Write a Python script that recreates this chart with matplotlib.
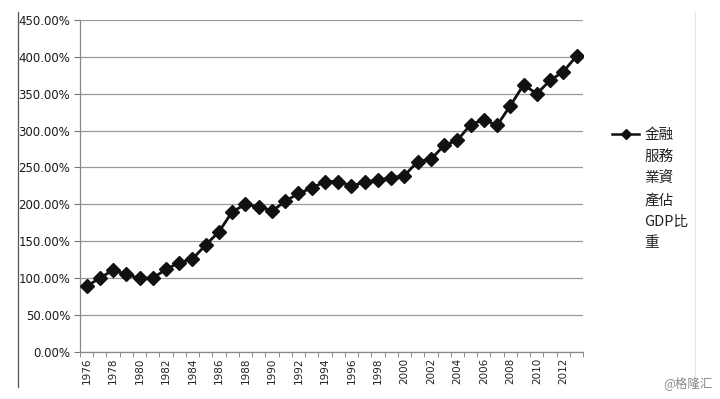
import matplotlib.pyplot as plt
import numpy as np
from matplotlib.lines import Line2D
from matplotlib.ticker import FixedLocator, FuncFormatter

years = list(range(1976, 2014))
share = [
    89, 100, 111, 105, 100, 100, 112, 121, 126, 145,
    163, 190, 200, 197, 191, 204, 215, 222, 231, 231,
    225, 230, 233, 236, 239, 258, 261, 280, 287, 308,
    315, 307, 334, 362, 350, 368, 380, 401,
]
series_name = "金融服務業資產佔GDP比重"
label_lines = ["金融", "服務", "業資", "產佔", "GDP比", "重"]
y_ticks = np.arange(0, 451, 50)

cjk = ["Noto Sans CJK TC", "DejaVu Sans"]

fig = plt.figure(figsize=(7.2, 3.99), dpi=100)
ax = fig.add_axes([0.111, 0.118, 0.699, 0.832])

ax.plot(years, share, color="#111111", linewidth=2.0, marker="D",
        markersize=7, markerfacecolor="#111111", markeredgecolor="#111111",
        label=series_name, zorder=3)

ax.set_xlim(years[0] - 0.5, years[-1] + 0.5)
ax.set_ylim(0, 450)

ax.set_yticks(y_ticks)
ax.yaxis.set_major_formatter(FuncFormatter(lambda v, _: f"{v:.2f}%"))
ax.grid(axis="y", color="#9a9a9a", linewidth=0.9)
ax.set_axisbelow(True)

ax.set_xticks(years[::2])
ax.set_xticklabels([str(y) for y in years[::2]], rotation=90)
ax.xaxis.set_minor_locator(FixedLocator(np.arange(years[0] - 0.5, years[-1] + 1, 1)))
ax.tick_params(axis="x", which="major", length=0, labelsize=7.5, pad=4,
               labelcolor="#222222")
ax.tick_params(axis="x", which="minor", length=3.5, color="#777777")
ax.tick_params(axis="y", length=4, color="#777777", labelsize=8.5,
               labelcolor="#1a1a1a", pad=3)

for side in ("top", "right"):
    ax.spines[side].set_visible(False)
for side in ("left", "bottom"):
    ax.spines[side].set_color("#888888")
    ax.spines[side].set_linewidth(0.9)

# legend drawn by hand so the marker sits on the first wrapped line
legend_y = 1 - 134 / 399
baseline_y = 1 - 139 / 399
line_step = 21.7 / 399
fig.add_artist(Line2D([0.85, 0.888], [legend_y, legend_y], transform=fig.transFigure,
                      color="#111111", linewidth=1.8))
fig.add_artist(Line2D([0.869], [legend_y], transform=fig.transFigure,
                      color="#111111", marker="D", markersize=5))
for i, text in enumerate(label_lines):
    fig.text(0.895, baseline_y - i * line_step, text, family=cjk, fontsize=10.5,
             va="baseline", ha="left", color="#222222")

# frame of the scanned chart area
fig.add_artist(Line2D([0.025, 0.025], [0.03, 0.97], transform=fig.transFigure,
                      color="#555555", linewidth=0.9))
fig.add_artist(Line2D([0.965, 0.965], [0.03, 0.97], transform=fig.transFigure,
                      color="#e6e6e6", linewidth=0.9))

fig.text(0.99, 0.04, "@格隆汇", family=cjk, fontsize=9, color="#8a8a8a",
         ha="right", va="center")

fig.savefig("out.png", dpi=100, facecolor="white")
